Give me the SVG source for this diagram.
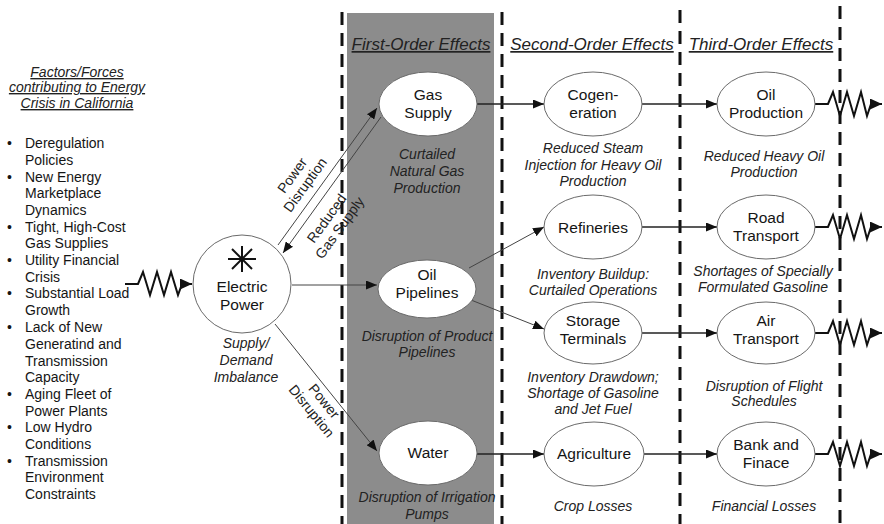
<svg xmlns="http://www.w3.org/2000/svg" width="884" height="524" viewBox="0 0 884 524">
  <style>
    text { font-family: "Liberation Sans", Arial, sans-serif; fill: #151515; }
    .list { font-size: 14px; }
    .head { font-size: 17px; font-style: italic; text-decoration: underline; text-anchor: middle; fill: #222; }
    .lhead { font-size: 14px; font-style: italic; text-decoration: underline; text-anchor: middle; fill: #222; }
    .node { font-size: 15.5px; text-anchor: middle; }
    .cap { font-size: 14px; font-style: italic; text-anchor: middle; fill: #222; }
    .lbl { font-size: 14px; text-anchor: middle; fill: #222; }
    .oval { fill: #ffffff; stroke: #6a6a6a; stroke-width: 1; }
    .divider { stroke: #111; stroke-width: 3; stroke-dasharray: 13 8; }
    .link { fill: none; stroke: #222; stroke-width: 1.5; }
    .thin { fill: none; stroke: #444; stroke-width: 1; }
    .zig { fill: none; stroke: #111; stroke-width: 2; stroke-linejoin: miter; }
  </style>
  <defs>
    <marker id="arrow" markerUnits="userSpaceOnUse" markerWidth="11" markerHeight="9" refX="11" refY="4.5" orient="auto">
      <path d="M0,0 L11,4.5 L0,9 Z" fill="#111"/>
    </marker>
    <marker id="arrowBig" markerUnits="userSpaceOnUse" markerWidth="12" markerHeight="11" refX="12" refY="5.5" orient="auto">
      <path d="M0,0 L12,5.5 L0,11 Z" fill="#111"/>
    </marker>
  </defs>

  <rect width="884" height="524" fill="#ffffff"/>

  <!-- first-order band -->
  <rect x="347" y="13" width="147" height="511" fill="#8c8c8c"/>

  <!-- column dividers -->
  <g id="dividers">
    <line class="divider" x1="342" y1="12" x2="342" y2="524"/>
    <line class="divider" x1="502" y1="12" x2="502" y2="524"/>
    <line class="divider" x1="680" y1="10" x2="680" y2="524"/>
    <line class="divider" x1="840" y1="6" x2="840" y2="524"/>
  </g>

  <!-- column headings -->
  <g id="headings">
    <text class="head" x="421" y="50">First-Order Effects</text>
    <text class="head" x="592" y="50">Second-Order Effects</text>
    <text class="head" x="761" y="50">Third-Order Effects</text>
  </g>

  <!-- contributing factors list -->
  <g id="factors">
    <text class="lhead" x="77" y="77">Factors/Forces</text>
    <text class="lhead" x="77" y="92">contributing to Energy</text>
    <text class="lhead" x="77" y="108">Crisis in California</text>
    <g class="list">
      <text x="7" y="148">•</text><text x="25" y="148">Deregulation</text>
      <text x="25" y="165">Policies</text>
      <text x="7" y="182">•</text><text x="25" y="182">New Energy</text>
      <text x="25" y="198">Marketplace</text>
      <text x="25" y="215">Dynamics</text>
      <text x="7" y="232">•</text><text x="25" y="232">Tight, High-Cost</text>
      <text x="25" y="248">Gas Supplies</text>
      <text x="7" y="265">•</text><text x="25" y="265">Utility Financial</text>
      <text x="25" y="282">Crisis</text>
      <text x="7" y="298">•</text><text x="25" y="298">Substantial Load</text>
      <text x="25" y="315">Growth</text>
      <text x="7" y="332">•</text><text x="25" y="332">Lack of New</text>
      <text x="25" y="349">Generatind and</text>
      <text x="25" y="366">Transmission</text>
      <text x="25" y="382">Capacity</text>
      <text x="7" y="399">•</text><text x="25" y="399">Aging Fleet of</text>
      <text x="25" y="416">Power Plants</text>
      <text x="7" y="432">•</text><text x="25" y="432">Low Hydro</text>
      <text x="25" y="449">Conditions</text>
      <text x="7" y="466">•</text><text x="25" y="466">Transmission</text>
      <text x="25" y="482">Environment</text>
      <text x="25" y="499">Constraints</text>
    </g>
  </g>

  <!-- connectors -->
  <g id="connectors">
    <path class="zig" marker-end="url(#arrowBig)" d="M125,284 H138 L143,272 L150,295 L157,272 L164,295 L171,272 L178,295 L182,284 H192"/>
    <line class="thin" x1="278" y1="245" x2="377" y2="108" marker-end="url(#arrow)"/>
    <line class="thin" x1="381" y1="117" x2="283" y2="253" marker-end="url(#arrow)"/>
    <line class="thin" x1="292" y1="285" x2="377" y2="285" marker-end="url(#arrow)"/>
    <line class="thin" x1="275" y1="324" x2="377" y2="451" marker-end="url(#arrow)"/>
    <line class="link" x1="477" y1="104" x2="544" y2="104" marker-end="url(#arrow)"/>
    <line class="thin" x1="469" y1="268" x2="544" y2="227" marker-end="url(#arrow)"/>
    <line class="thin" x1="471" y1="300" x2="544" y2="329" marker-end="url(#arrow)"/>
    <line class="link" x1="477" y1="454" x2="544" y2="454" marker-end="url(#arrow)"/>
    <line class="link" x1="642" y1="104" x2="717" y2="104" marker-end="url(#arrow)"/>
    <line class="link" x1="642" y1="227" x2="717" y2="227" marker-end="url(#arrow)"/>
    <line class="link" x1="642" y1="333" x2="717" y2="333" marker-end="url(#arrow)"/>
    <line class="link" x1="644" y1="454" x2="717" y2="454" marker-end="url(#arrow)"/>
    <path class="zig" marker-end="url(#arrowBig)" d="M815,104 H828 L833,92 L840,116 L847,92 L854,116 L861,92 L867,116 L871,104 H882"/>
    <path class="zig" marker-end="url(#arrowBig)" d="M815,227 H828 L833,215 L840,239 L847,215 L854,239 L861,215 L867,239 L871,227 H882"/>
    <path class="zig" marker-end="url(#arrowBig)" d="M815,333 H828 L833,321 L840,345 L847,321 L854,345 L861,321 L867,345 L871,333 H882"/>
    <path class="zig" marker-end="url(#arrowBig)" d="M815,454 H828 L833,442 L840,466 L847,442 L854,466 L861,442 L867,466 L871,454 H882"/>
    <g transform="translate(298.5,180) rotate(-54)">
      <text class="lbl" x="0" y="-3">Power</text>
      <text class="lbl" x="0" y="13">Disruption</text>
    </g>
    <g transform="translate(333,223) rotate(-54)">
      <text class="lbl" x="0" y="-3">Reduced</text>
      <text class="lbl" x="0" y="13">Gas Supply</text>
    </g>
    <g transform="translate(318,406) rotate(51)">
      <text class="lbl" x="0" y="-3">Power</text>
      <text class="lbl" x="0" y="13">Disruption</text>
    </g>
  </g>

  <!-- nodes -->
  <g id="electric-power">
    <circle class="oval" cx="242" cy="284" r="49"/>
    <g stroke="#111" stroke-width="2">
      <line x1="228" y1="259" x2="256" y2="259"/>
      <line x1="242" y1="246" x2="242" y2="272"/>
      <line x1="232" y1="249" x2="252" y2="269"/>
      <line x1="232" y1="269" x2="252" y2="249"/>
    </g>
    <text class="node" x="242" y="292">Electric</text>
    <text class="node" x="242" y="310">Power</text>
    <text class="cap" x="246" y="348">Supply/</text>
    <text class="cap" x="246" y="365">Demand</text>
    <text class="cap" x="246" y="382">Imbalance</text>
  </g>

  <g id="gas-supply">
    <ellipse class="oval" cx="428" cy="104" rx="49" ry="32"/>
    <text class="node" x="428" y="100">Gas</text>
    <text class="node" x="428" y="118">Supply</text>
    <text class="cap" x="427" y="159">Curtailed</text>
    <text class="cap" x="427" y="176">Natural Gas</text>
    <text class="cap" x="427" y="193">Production</text>
  </g>

  <g id="oil-pipelines">
    <ellipse class="oval" cx="427" cy="289" rx="49" ry="29"/>
    <text class="node" x="427" y="280">Oil</text>
    <text class="node" x="427" y="298">Pipelines</text>
    <text class="cap" x="427" y="341">Disruption of Product</text>
    <text class="cap" x="427" y="357">Pipelines</text>
  </g>

  <g id="water">
    <ellipse class="oval" cx="428" cy="453" rx="49" ry="32"/>
    <text class="node" x="428" y="458">Water</text>
    <text class="cap" x="427" y="502">Disruption of Irrigation</text>
    <text class="cap" x="427" y="519">Pumps</text>
  </g>

  <g id="cogeneration">
    <ellipse class="oval" cx="593" cy="104" rx="49" ry="32"/>
    <text class="node" x="593" y="100">Cogen-</text>
    <text class="node" x="593" y="118">eration</text>
    <text class="cap" x="593" y="153">Reduced Steam</text>
    <text class="cap" x="593" y="170">Injection for Heavy Oil</text>
    <text class="cap" x="593" y="186">Production</text>
  </g>

  <g id="refineries">
    <ellipse class="oval" cx="593" cy="227" rx="49" ry="32"/>
    <text class="node" x="593" y="233">Refineries</text>
    <text class="cap" x="593" y="279">Inventory Buildup:</text>
    <text class="cap" x="593" y="295">Curtailed Operations</text>
  </g>

  <g id="storage-terminals">
    <ellipse class="oval" cx="593" cy="333" rx="49" ry="31"/>
    <text class="node" x="593" y="326">Storage</text>
    <text class="node" x="593" y="344">Terminals</text>
    <text class="cap" x="593" y="382">Inventory Drawdown;</text>
    <text class="cap" x="593" y="398">Shortage of Gasoline</text>
    <text class="cap" x="593" y="414">and Jet Fuel</text>
  </g>

  <g id="agriculture">
    <ellipse class="oval" cx="594" cy="454" rx="50" ry="32"/>
    <text class="node" x="594" y="459">Agriculture</text>
    <text class="cap" x="593" y="511">Crop Losses</text>
  </g>

  <g id="oil-production">
    <ellipse class="oval" cx="766" cy="104" rx="49" ry="32"/>
    <text class="node" x="766" y="100">Oil</text>
    <text class="node" x="766" y="118">Production</text>
    <text class="cap" x="764" y="161">Reduced Heavy Oil</text>
    <text class="cap" x="764" y="177">Production</text>
  </g>

  <g id="road-transport">
    <ellipse class="oval" cx="766" cy="227" rx="49" ry="32"/>
    <text class="node" x="766" y="223">Road</text>
    <text class="node" x="766" y="241">Transport</text>
    <text class="cap" x="763" y="276">Shortages of Specially</text>
    <text class="cap" x="763" y="292">Formulated Gasoline</text>
  </g>

  <g id="air-transport">
    <ellipse class="oval" cx="766" cy="333" rx="49" ry="31"/>
    <text class="node" x="766" y="326">Air</text>
    <text class="node" x="766" y="344">Transport</text>
    <text class="cap" x="764" y="391">Disruption of Flight</text>
    <text class="cap" x="764" y="406">Schedules</text>
  </g>

  <g id="bank-finance">
    <ellipse class="oval" cx="766" cy="454" rx="49" ry="32"/>
    <text class="node" x="766" y="450">Bank and</text>
    <text class="node" x="766" y="468">Finace</text>
    <text class="cap" x="764" y="511">Financial Losses</text>
  </g>
</svg>
